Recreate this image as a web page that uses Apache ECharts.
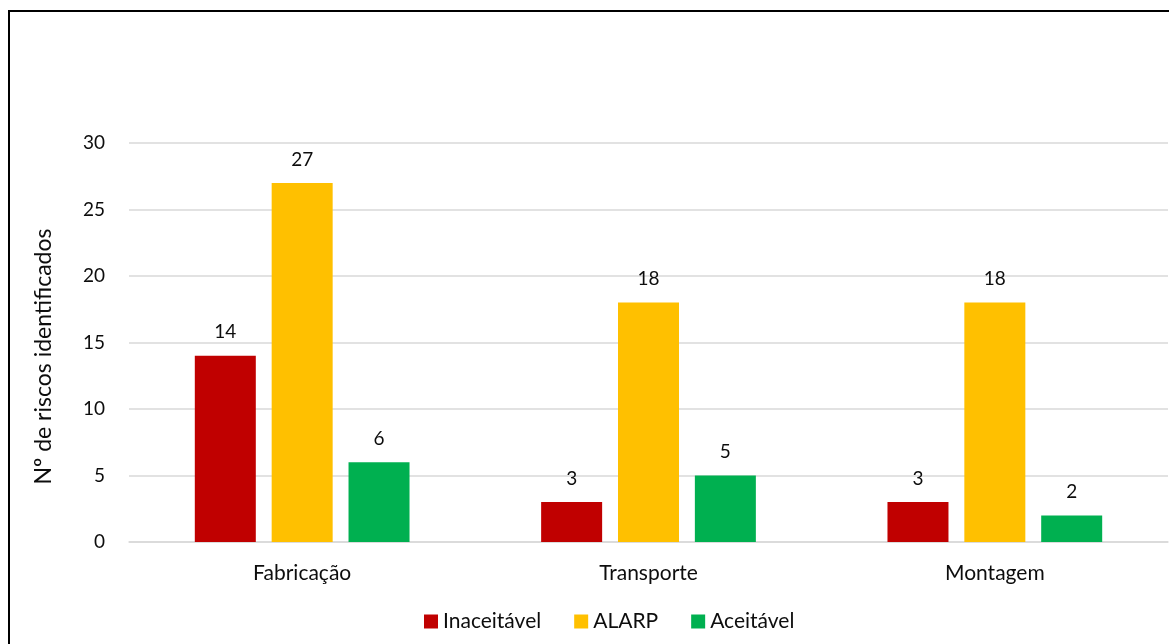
<!DOCTYPE html>
<html><head><meta charset="utf-8">
<script src="https://cdn.jsdelivr.net/npm/echarts@6/dist/echarts.min.js"></script>
<style>html,body{margin:0;padding:0;background:#fff}#c{width:1169px;height:644px}
#frame{position:absolute;left:8px;top:10px;width:1180px;height:660px;border:2px solid #000;box-sizing:border-box;pointer-events:none}</style>
</head><body><div id="c"></div><div id="frame"></div>
<script>
const categories = ['Fabricação', 'Transporte', 'Montagem'];
const inaceitavel = [14, 3, 3];
const alarp = [27, 18, 18];
const aceitavel = [6, 5, 2];
const seriesNames = ['Inaceitável', 'ALARP', 'Aceitável'];
const yTicks = {min: 0, max: 30, interval: 5};

const FONT = 'Lato';
const TXT = '#0d0d0d';
const chart = echarts.init(document.getElementById('c'));
const lbl = {show: true, position: 'top', distance: 14, fontFamily: FONT, fontSize: 19, color: TXT};
function s(name, data, color) {
  return {name, type: 'bar', data, barWidth: 61, barGap: '26%', itemStyle: {color}, label: lbl};
}
chart.setOption({
  animation: false,
  textStyle: {fontFamily: FONT},
  grid: {left: 129, right: 1, top: 143, bottom: 102, containLabel: false},
  legend: {
    bottom: 7, left: 419, itemWidth: 14, itemHeight: 14, itemGap: 33,
    icon: 'rect',
    textStyle: {fontFamily: FONT, fontSize: 21, color: TXT},
    data: seriesNames
  },
  xAxis: {
    type: 'category', data: categories,
    axisLine: {lineStyle: {color: '#d9d9d9', width: 1.5}},
    axisTick: {show: false},
    axisLabel: {fontFamily: FONT, fontSize: 21, color: TXT, margin: 21}
  },
  yAxis: {
    type: 'value', min: yTicks.min, max: yTicks.max, interval: yTicks.interval,
    name: 'Nº de riscos identificados', nameLocation: 'middle', nameGap: 74,
    nameTextStyle: {fontFamily: FONT, fontSize: 23, color: TXT, padding: [0, 0, 0, -28]},
    axisLine: {show: false}, axisTick: {show: false},
    axisLabel: {fontFamily: FONT, fontSize: 19, color: TXT, margin: 24},
    splitLine: {lineStyle: {color: '#d9d9d9', width: 1.5}}
  },
  series: [
    s(seriesNames[0], inaceitavel, '#c00000'),
    s(seriesNames[1], alarp, '#ffc000'),
    s(seriesNames[2], aceitavel, '#00b050')
  ]
});
</script></body></html>
